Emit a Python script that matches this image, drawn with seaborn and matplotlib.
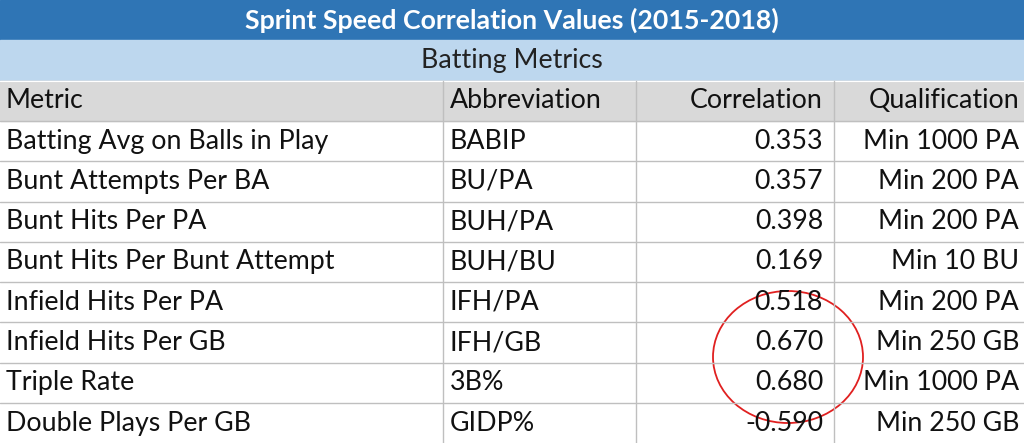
import matplotlib
matplotlib.use("Agg")
import matplotlib.pyplot as plt
from matplotlib.patches import Rectangle, Ellipse
import seaborn as sns

sns.set_theme(style="white")
plt.rcParams['font.family'] = ['Lato', 'DejaVu Sans']

title = "Sprint Speed Correlation Values (2015-2018)"
section = "Batting Metrics"
headers = ["Metric", "Abbreviation", "Correlation", "Qualification"]
metrics = ["Batting Avg on Balls in Play", "Bunt Attempts Per BA", "Bunt Hits Per PA",
           "Bunt Hits Per Bunt Attempt", "Infield Hits Per PA", "Infield Hits Per GB",
           "Triple Rate", "Double Plays Per GB"]
abbrevs = ["BABIP", "BU/PA", "BUH/PA", "BUH/BU", "IFH/PA", "IFH/GB", "3B%", "GIDP%"]
correlations = [0.353, 0.357, 0.398, 0.169, 0.518, 0.670, 0.680, -0.590]
qualifications = ["Min 1000 PA", "Min 200 PA", "Min 200 PA", "Min 10 BU",
                  "Min 200 PA", "Min 250 GB", "Min 1000 PA", "Min 250 GB"]

W, H = 1024, 443
fig = plt.figure(figsize=(W/100, H/100), dpi=100)
ax = fig.add_axes([0, 0, 1, 1])
ax.set_xlim(0, W); ax.set_ylim(H, 0); ax.axis("off")

rh = 40.3
cols = [0, 443, 636, 834, W]
fs = 19.3
# title
ax.add_patch(Rectangle((0, 0), W, rh, color="#2F75B5"))
ax.text(W/2, rh/2, title, ha="center", va="center", color="white", fontsize=fs, fontweight="bold")
ax.add_patch(Rectangle((0, rh), W, rh, color="#BDD7EE"))
ax.text(W/2, rh*1.5, section, ha="center", va="center", color="#222222", fontsize=fs)
ax.add_patch(Rectangle((0, 2*rh), W, rh, color="#D9D9D9"))

rows = [headers] + [[m, a, f"{c:.3f}", q] for m, a, c, q in zip(metrics, abbrevs, correlations, qualifications)]
for i, row in enumerate(rows):
    yc = (2 + i) * rh + rh/2
    ax.text(6, yc, row[0], ha="left", va="center", fontsize=fs, color="#111111")
    ax.text(cols[1] + 7, yc, row[1], ha="left", va="center", fontsize=fs, color="#111111")
    ax.text(cols[3] - 11, yc, row[2], ha="right", va="center", fontsize=fs, color="#111111")
    ax.text(W - 5, yc, row[3], ha="right", va="center", fontsize=fs, color="#111111")

for i in range(2, 11):
    ax.plot([0, W], [i*rh, i*rh], color="#BFBFBF", lw=1)
ax.plot([0, W], [2*rh, 2*rh], color="#FFFFFF", lw=1)
for x in cols[1:4]:
    ax.plot([x, x], [2*rh, H], color="#BFBFBF", lw=1)

ax.add_patch(Ellipse((788, 357), 150, 132, fill=False, edgecolor="#E02020", lw=1.3))
fig.savefig("out.png", dpi=100)
